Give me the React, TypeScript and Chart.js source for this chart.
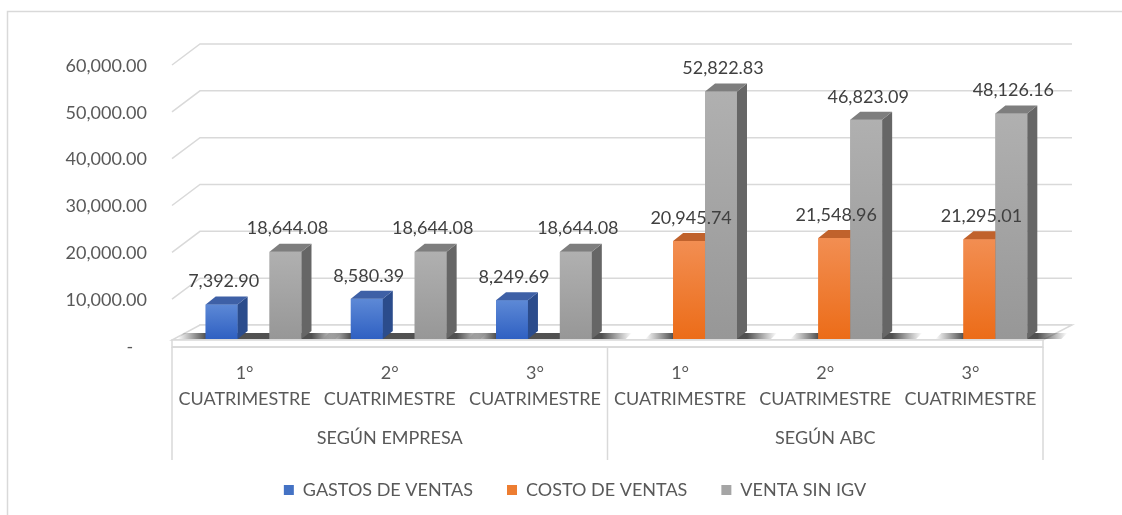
import React, { useEffect, useRef } from 'react';
import { Chart, registerables } from 'chart.js';

Chart.register(...registerables);

const categories: string[][] = [
  ['1°', 'CUATRIMESTRE'],
  ['2°', 'CUATRIMESTRE'],
  ['3°', 'CUATRIMESTRE'],
  ['1°', 'CUATRIMESTRE'],
  ['2°', 'CUATRIMESTRE'],
  ['3°', 'CUATRIMESTRE'],
];
const groups = ['SEGÚN EMPRESA', 'SEGÚN ABC'];
const seriesNames = ['GASTOS DE VENTAS', 'COSTO DE VENTAS', 'VENTA SIN IGV'];
const gastosVentas = [7392.9, 8580.39, 8249.69, null, null, null];
const costoVentas = [null, null, null, 20945.74, 21548.96, 21295.01];
const ventaSinIgv = [18644.08, 18644.08, 18644.08, 52822.83, 46823.09, 48126.16];
const yMin = 0;
const yMax = 60000;
const yStep = 10000;

const FONT = 'Lato, "Open Sans", Arial, sans-serif';
const AXIS_COLOR = '#595959';
const LABEL_COLOR = '#404040';
const GRID_COLOR = '#D9D9D9';

// front gradient top/bottom, side, top face, legend
const palette = [
  { fTop: '#5D89D6', fBot: '#2F60C2', side: '#2B4C8C', top: '#3E60A6', legend: '#4472C4' },
  { fTop: '#F28E52', fBot: '#EC6C18', side: '#B4561C', top: '#C0622C', legend: '#ED7D31' },
  { fTop: '#B0B0B0', fBot: '#979797', side: '#666666', top: '#7E7E7E', legend: '#A5A5A5' },
];

const DEPTH_X = 10;
const DEPTH_Y = 8;

function fmt(v: number) {
  return v.toLocaleString('en-US', { minimumFractionDigits: 2, maximumFractionDigits: 2 });
}

const threeD = {
  id: 'threeD',
  beforeDraw(chart: any) {
    const { ctx } = chart;
    ctx.save();
    ctx.strokeStyle = GRID_COLOR;
    ctx.lineWidth = 1.5;
    ctx.strokeRect(7.5, 11.5, 1300, 700);
    ctx.restore();
  },
  beforeDatasetsDraw(chart: any) {
    const { ctx, chartArea, scales } = chart;
    const { left, right, bottom } = chartArea;
    const y = scales.y;
    const x = scales.x;
    ctx.save();
    // back wall gridlines
    ctx.strokeStyle = GRID_COLOR;
    ctx.lineWidth = 1.5;
    y.ticks.forEach((t: any) => {
      const yp = y.getPixelForValue(t.value);
      ctx.beginPath();
      ctx.moveTo(left - 9, yp + 7);
      ctx.lineTo(left + 19, yp - 14);
      ctx.lineTo(right + 20, yp - 14);
      ctx.stroke();
    });
    // floor
    ctx.fillStyle = '#FFFFFF';
    ctx.beginPath();
    ctx.moveTo(left - 9, bottom + 1);
    ctx.lineTo(right - 9, bottom + 1);
    ctx.lineTo(right + 20, bottom - 14);
    ctx.lineTo(left + 19, bottom - 14);
    ctx.closePath();
    ctx.fill();
    ctx.stroke();
    ctx.beginPath();
    ctx.rect(left - 9, bottom + 1, right - left, 7);
    ctx.fill();
    ctx.stroke();
    // shadows
    for (let i = 0; i < categories.length; i++) {
      let minL = Infinity;
      let maxR = -Infinity;
      for (let d = 0; d < chart.data.datasets.length; d++) {
        const el = chart.getDatasetMeta(d).data[i];
        const raw = chart.data.datasets[d].data[i];
        if (!el || raw == null) continue;
        const p = el.getProps(['x', 'width'], true);
        minL = Math.min(minL, p.x - p.width / 2);
        maxR = Math.max(maxR, p.x + p.width / 2);
      }
      if (!isFinite(minL)) continue;
      const x0 = minL - 28;
      const x1 = maxR + 40;
      const g = ctx.createLinearGradient(x0, 0, x1, 0);
      const w = x1 - x0;
      g.addColorStop(0, 'rgba(50,50,50,0)');
      g.addColorStop(28 / w, 'rgba(50,50,50,0.85)');
      g.addColorStop((w - 30) / w, 'rgba(50,50,50,0.85)');
      g.addColorStop(1, 'rgba(50,50,50,0)');
      ctx.fillStyle = g;
      ctx.beginPath();
      ctx.moveTo(x0, bottom);
      ctx.lineTo(x1 - 6, bottom);
      ctx.lineTo(x1, bottom - 6);
      ctx.lineTo(x0 + 6, bottom - 6);
      ctx.closePath();
      ctx.fill();
    }
    // axis box lines
    ctx.strokeStyle = GRID_COLOR;
    ctx.lineWidth = 1.5;
    const mid = (x.getPixelForValue(2) + x.getPixelForValue(3)) / 2 - 9;
    ctx.beginPath();
    ctx.moveTo(left - 9, bottom + 8);
    ctx.lineTo(right - 9, bottom + 8);
    [left - 9, mid, right - 9].forEach((xx) => {
      ctx.moveTo(xx, bottom + 8);
      ctx.lineTo(xx, bottom + 121);
    });
    ctx.stroke();
    ctx.restore();
  },
  afterDatasetsDraw(chart: any) {
    const { ctx, chartArea } = chart;
    ctx.save();
    for (let d = 0; d < chart.data.datasets.length; d++) {
      const meta = chart.getDatasetMeta(d);
      const col = palette[d];
      meta.data.forEach((el: any, i: number) => {
        const raw = chart.data.datasets[d].data[i];
        if (raw == null) return;
        el.draw(ctx, chartArea);
        const { x, y, base, width } = el.getProps(['x', 'y', 'base', 'width'], true);
        const l = x - width / 2;
        const r = x + width / 2;
        ctx.fillStyle = col.side;
        ctx.beginPath();
        ctx.moveTo(r, y);
        ctx.lineTo(r + DEPTH_X, y - DEPTH_Y);
        ctx.lineTo(r + DEPTH_X, base - DEPTH_Y);
        ctx.lineTo(r, base);
        ctx.closePath();
        ctx.fill();
        ctx.fillStyle = col.top;
        ctx.beginPath();
        ctx.moveTo(l, y);
        ctx.lineTo(l + DEPTH_X, y - DEPTH_Y);
        ctx.lineTo(r + DEPTH_X, y - DEPTH_Y);
        ctx.lineTo(r, y);
        ctx.closePath();
        ctx.fill();
      });
    }
    ctx.font = `18px ${FONT}`;
    ctx.fillStyle = LABEL_COLOR;
    ctx.textAlign = 'center';
    ctx.textBaseline = 'middle';
    for (let d = 0; d < chart.data.datasets.length; d++) {
      const meta = chart.getDatasetMeta(d);
      meta.data.forEach((el: any, i: number) => {
        const raw = chart.data.datasets[d].data[i];
        if (raw == null) return;
        const { x, y } = el.getProps(['x', 'y'], true);
        ctx.fillText(fmt(raw as number), x + 2, y - 23);
      });
    }
    ctx.restore();
  },
};

function frontFill(idx: number) {
  return (c: any) => {
    const chart = c.chart;
    const area = chart.chartArea;
    const col = palette[idx];
    if (!area || c.type !== 'data' || c.raw == null || !chart.scales.y) return col.legend;
    const yTop = chart.scales.y.getPixelForValue(c.raw);
    if (!isFinite(yTop)) return col.legend;
    const g = chart.ctx.createLinearGradient(0, yTop, 0, area.bottom);
    g.addColorStop(0, col.fTop);
    g.addColorStop(1, col.fBot);
    return g;
  };
}

export default function App() {
  const ref = useRef<HTMLCanvasElement | null>(null);
  useEffect(() => {
    if (!ref.current) return;
    const seriesData = [gastosVentas, costoVentas, ventaSinIgv];
    const chart = new Chart(ref.current, {
      type: 'bar',
      data: {
        labels: categories,
        datasets: seriesNames.map((name, i) => ({
          label: name,
          data: seriesData[i],
          backgroundColor: frontFill(i),
          borderWidth: 0,
          categoryPercentage: 0.66,
          barPercentage: 1,
        })),
      },
      options: {
        responsive: false,
        animation: false,
        layout: { padding: { left: 40, right: 12, top: 58, bottom: 6 } },
        plugins: {
          tooltip: { enabled: false },
          legend: {
            position: 'bottom',
            labels: {
              boxWidth: 10,
              boxHeight: 10,
              padding: 34,
              color: AXIS_COLOR,
              font: { family: FONT, size: 18 },
              generateLabels: () =>
                seriesNames.map((n, i) => ({
                  text: n,
                  fillStyle: palette[i].legend,
                  strokeStyle: palette[i].legend,
                  lineWidth: 0,
                  hidden: false,
                  datasetIndex: i,
                  fontColor: AXIS_COLOR,
                })),
            },
          },
        },
        scales: {
          x: {
            type: 'category',
            position: 'bottom',
            grid: { display: false, drawTicks: false },
            border: { display: false },
            ticks: {
              color: AXIS_COLOR,
              font: { family: FONT, size: 18, lineHeight: 1.45 },
              padding: 21,
              labelOffset: -9,
              maxRotation: 0,
              autoSkip: false,
            },
            afterFit: (s: any) => {
              s.height = 80;
            },
          },
          x2: {
            type: 'category',
            position: 'bottom',
            labels: groups,
            grid: { display: false, drawTicks: false },
            border: { display: false },
            ticks: {
              color: AXIS_COLOR,
              font: { family: FONT, size: 18, lineHeight: 1.45 },
              padding: 6,
              labelOffset: -9,
              maxRotation: 0,
              autoSkip: false,
            },
            afterFit: (s: any) => {
              s.height = 28;
            },
          },
          y: {
            min: yMin,
            max: yMax,
            grid: { display: false, drawTicks: false },
            border: { display: false },
            ticks: {
              stepSize: yStep,
              color: AXIS_COLOR,
              font: { family: FONT, size: 18 },
              padding: 34,
              labelOffset: 8,
              callback: (v: any) => (Number(v) === 0 ? '-   ' : fmt(Number(v))),
            },
            afterFit: (s: any) => {
              s.width = 141;
            },
          },
          yRight: {
            type: 'linear',
            position: 'right',
            grid: { display: false, drawTicks: false },
            border: { display: false },
            ticks: { display: false },
            afterFit: (s: any) => {
              s.width = 58;
            },
          },
        },
      },
      plugins: [threeD],
    } as any);
    return () => chart.destroy();
  }, []);
  return (
    <div style={{ position: 'fixed', left: 0, top: 0, width: 1122, height: 515, background: '#fff' }}>
      <canvas ref={ref} width={1122} height={515} style={{ display: 'block' }} />
    </div>
  );
}
